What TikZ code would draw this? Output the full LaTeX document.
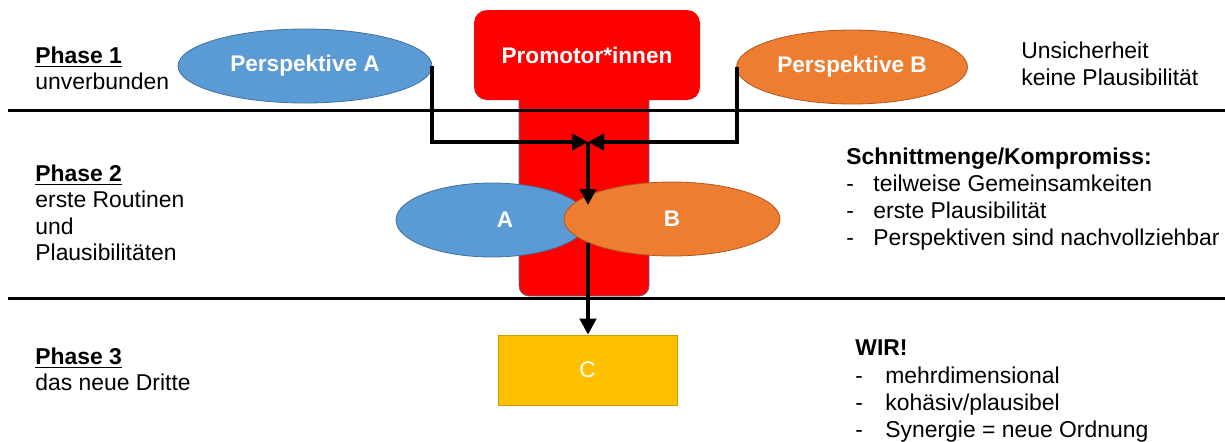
\documentclass[tikz,border=0pt]{standalone}
\usepackage{fontspec}
\setmainfont{Liberation Sans}
\usepackage{tikz}
\usetikzlibrary{shapes.geometric,arrows.meta}

\definecolor{pblue}{HTML}{5B9BD5}
\definecolor{pblueline}{HTML}{41719C}
\definecolor{porange}{HTML}{ED7D31}
\definecolor{porangeline}{HTML}{AE5A21}
\definecolor{pgold}{HTML}{FFC000}

\begin{document}
\begin{tikzpicture}[x=0.5pt,y=-0.5pt,
  txt/.style={anchor=base west,inner sep=0pt,font=\fontsize{11.45}{13.4}\selectfont},
  sep/.style={line width=1.5pt},
  arr/.style={line width=2pt,-{Triangle[length=8pt,width=8pt]}},
  persp/.style={ellipse,inner sep=0pt,outer sep=0pt,text=white,font=\fontsize{11.3}{13.4}\selectfont\bfseries},]
\useasboundingbox (0,0) rectangle (1225,441);
% T
\node[rectangle,rounded corners=5pt,fill=red,draw=pblueline,line width=0.3pt,minimum width=65pt,minimum height=103pt,inner sep=0pt](stem) at (584,193){};
\node[rectangle,rounded corners=6.5pt,fill=red,minimum width=113pt,minimum height=45pt,inner sep=0pt,text=white,font=\fontsize{11.3}{13.4}\selectfont\bfseries](promo) at (587,55){Promotor*innen};
% phases
\draw[sep] (8,110) -- (1225,110);
\draw[sep] (8,298) -- (1225,298);
\node[persp,fill=pblue,draw=pblueline,minimum width=127pt,minimum height=37pt](pA) at (305,66){Perspektive A};
\node[persp,fill=porange,draw=porangeline,minimum width=115.5pt,minimum height=37pt](pB) at (852,67){Perspektive B};
\node[persp,fill=pblue,draw=pblueline,minimum width=96pt,minimum height=37pt,
  label={[text=white,font=\fontsize{11.3}{13.4}\selectfont\bfseries,xshift=6.5pt]center:A}](A) at (492,220){};
\node[persp,fill=porange,draw=porangeline,minimum width=108pt,minimum height=37pt](B) at (672,219){B};
\node[rectangle,fill=pgold,draw=pgold!80!black,line width=0.3pt,minimum width=89.5pt,minimum height=35pt,inner sep=0pt,text=white,font=\fontsize{11.3}{13.4}\selectfont](C) at (587.5,370){C};
% arrows
\coordinate (meet) at (588,142);
\coordinate (ABtop) at (588,205);
\coordinate (ABbot) at (588,243);
\draw[arr] (pA.east) |- (meet);
\draw[arr] (pB.west) |- (meet);
\draw[arr] (meet) -- (ABtop);
\draw[arr] (ABbot) -- (ABbot |- C.north);
% left column
\node[txt](ph1) at (35,63){\underline{\textbf{Phase 1}}};
\node[txt](ph1a) at (35,89){unverbunden};
\node[txt](ph2) at (35,181){\underline{\textbf{Phase 2}}};
\node[txt](ph2a) at (35,207){erste Routinen};
\node[txt](ph2b) at (35,234){und};
\node[txt](ph2c) at (35,260){Plausibilitäten};
\node[txt](ph3) at (35,364){\underline{\textbf{Phase 3}}};
\node[txt](ph3a) at (35,390){das neue Dritte};
% right column
\node[txt](r1a) at (1021,58){Unsicherheit};
\node[txt](r1b) at (1021,85){keine Plausibilität};
\node[txt](r2) at (846,164){\textbf{Schnittmenge/Kompromiss:}};
\node[txt](r2a) at (846,191){-};
\node[txt](r2at) at (873,191){teilweise Gemeinsamkeiten};
\node[txt](r2b) at (846,218){-};
\node[txt](r2bt) at (873,218){erste Plausibilität};
\node[txt](r2c) at (846,245){-};
\node[txt](r2ct) at (873,245){Perspektiven sind nachvollziehbar};
\node[txt](r3) at (855,355){\textbf{WIR!}};
\node[txt](r3a) at (855,383){-};
\node[txt](r3at) at (885,383){mehrdimensional};
\node[txt](r3b) at (855,410){-};
\node[txt](r3bt) at (885,410){kohäsiv/plausibel};
\node[txt](r3c) at (855,437){-};
\node[txt](r3ct) at (885,437){Synergie = neue Ordnung};
\end{tikzpicture}
\end{document}
